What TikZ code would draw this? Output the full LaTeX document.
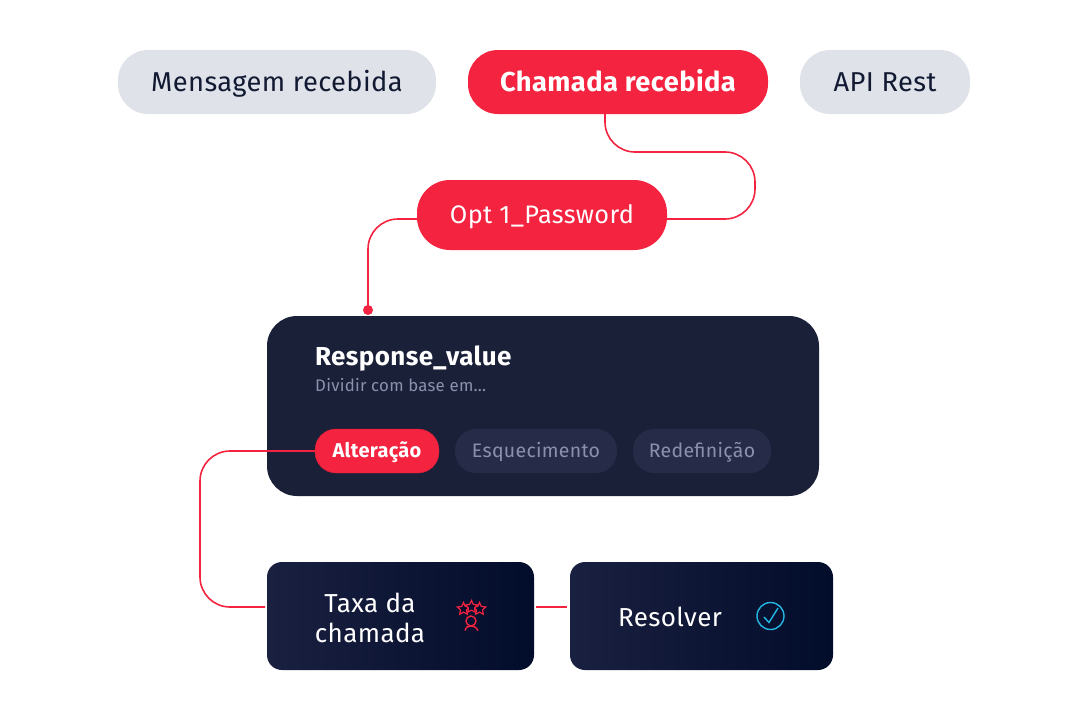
\documentclass[tikz,border=0pt]{standalone}
\usepackage{fontspec}
\setmainfont{Fira Sans}[LetterSpace=1.5]
\usetikzlibrary{positioning,calc,shapes.geometric}
\definecolor{callred}{HTML}{F4233F}
\definecolor{pillgray}{HTML}{DFE2E8}
\definecolor{inktext}{HTML}{121A33}
\definecolor{cardnavy}{HTML}{1B2039}
\definecolor{chipnavy}{HTML}{262C47}
\definecolor{chiptext}{HTML}{8C90AC}
\definecolor{taskleft}{HTML}{1A2040}
\definecolor{taskright}{HTML}{020C2B}
\definecolor{checkblue}{HTML}{22B8E6}
\begin{document}
\begin{tikzpicture}[x=1pt, y=-1pt,
    source pill/.style={rounded corners=30pt, minimum height=64pt, inner sep=0pt, text height=21pt, text depth=3pt, font=\fontsize{27.3}{29}\selectfont},
    gray pill/.style={source pill, fill=pillgray, text=inktext},
    red pill/.style={source pill, fill=callred, text=white},
    chip/.style={rounded corners=21pt, minimum height=44pt, inner sep=0pt, text height=15pt, text depth=3pt, font=\fontsize{19.5}{23}\selectfont},
    task box/.style={rounded corners=15pt, minimum height=108pt, inner sep=0pt, left color=taskleft, right color=taskright},
    task text/.style={text=white, align=center, inner sep=0pt, font=\fontsize{26}{30}\selectfont},
    link/.style={draw=callred, line width=1.6pt, rounded corners=30pt},
    star icon/.style={star, star points=5, star point ratio=2.1, draw=callred, fill=taskright, line width=1.2pt, minimum size=13pt, inner sep=0pt}]
    \useasboundingbox (0,0) rectangle (1088,720);

    \node[gray pill, minimum width=318pt] (msg) at (277,82) {Mensagem recebida};
    \node[red pill, minimum width=300pt, font=\fontsize{27.3}{29}\selectfont\bfseries] (call) at (618,82) {Chamada recebida};
    \node[gray pill, minimum width=170pt] (api) at (885,82) {API Rest};
    \node[red pill, minimum width=250pt, minimum height=70pt, rounded corners=33pt, text height=20pt, text depth=4pt, font=\fontsize{25.3}{29}\selectfont] (opt) at (542,215) {Opt 1\_Password};

    \node[fill=cardnavy, rounded corners=30pt, minimum width=552pt, minimum height=180pt, inner sep=0pt] (card) at (543,406) {};
    \node[anchor=west, text=white, inner sep=0pt, font=\fontsize{26}{28}\selectfont\bfseries] (title) at (315,359) {Response\_value};
    \node[anchor=west, text=chiptext, inner sep=0pt, font=\fontsize{16.8}{19}\selectfont] (subtitle) at (315,385) {Dividir com base em...};
    \node[chip, fill=callred, draw=callred!88!black, text=white, minimum width=124pt, font=\fontsize{20}{23}\selectfont\bfseries] (change) at (377,451) {Alteração};
    \node[chip, fill=chipnavy, text=chiptext, minimum width=162pt] (forgot) at (536,451) {Esquecimento};
    \node[chip, fill=chipnavy, text=chiptext, minimum width=138pt] (reset) at (702,451) {Redefinição};

    \node[task box, minimum width=267pt] (rate) at (400.5,616) {};
    \node[task text] (ratetext) at (370,618) {Taxa da\\chamada};
    \node[task box, minimum width=263pt] (solve) at (701.5,616) {};
    \node[task text] (solvetext) at (670,617) {Resolver};

    % icon: three stars over a person
    \node[star icon] (starl) at (463.5,609) {};
    \node[star icon] (starr) at (479.5,609) {};
    \node[star icon] (starm) at (471.5,607) {};
    \node[circle, draw=callred, line width=1.4pt, minimum size=10pt, inner sep=0pt] (head) at (471,621) {};
    \draw[callred, line width=1.4pt] (465,630.5) .. controls (466,627) and (468,626) .. (471,626) .. controls (474,626) and (476,627) .. (478,630.5);

    % icon: check in a circle
    \node[circle, draw=checkblue, line width=1.4pt, minimum size=27pt, inner sep=0pt] (check) at (770.5,616) {};
    \draw[checkblue, line width=1.4pt] (764,617) -- (769,622.5) -- (778,608);

    \coordinate (callout) at (605,113);
    \coordinate (optin) at (667,219);
    \coordinate (optout) at (417,219);
    \coordinate (carddot) at (368,310);
    \coordinate (ratein) at (265,607);
    \coordinate (rateout) at (536,607);
    \coordinate (solvein) at (567,607);

    \draw[link] (callout) -- (605,152) -- (755,152) -- (755,219) -- (optin);
    \draw[link] (optout) -- (368,219) -- (carddot);
    \fill[callred] (carddot) circle (5pt);
    \draw[link] (change.west) -- (200,451) -- (200,607) -- (ratein);
    \draw[link] (rateout) -- (solvein);
\end{tikzpicture}
\end{document}
